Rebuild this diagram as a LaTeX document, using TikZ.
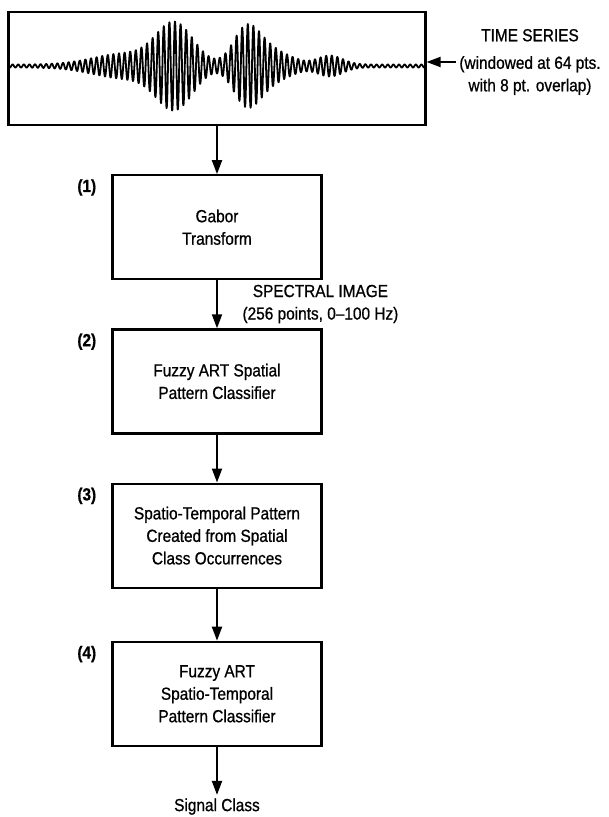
\documentclass[tikz,border=0pt]{standalone}
\usepackage{fontspec}
\setmainfont{Liberation Sans}[FakeStretch=0.88, FakeBold=0.8]
\usetikzlibrary{positioning, arrows.meta}

\begin{document}
\begin{tikzpicture}[
        x=1pt, y=-1pt,
        font=\fontsize{17.5}{22.5}\selectfont,
        stage/.style={draw, rectangle, minimum width=209pt, minimum height=104pt, align=center, line width=2.2pt},
        note/.style={align=center},
        tag/.style={font=\fontsize{17.5}{22.5}\selectfont\bfseries, inner sep=0pt},
        arr/.style={-{Triangle[length=14pt, width=10pt]}, line width=2pt},
        wave/.style={line width=1.8pt, line join=round},
        declare function={bump(\u)=exp(-(\u*\u));
            env(\x)=1.5+11*bump((\x-125)/45)+40*bump((\x-175)/26)+32*bump((\x-245)/18)
                +15*bump((\x-262)/20)+7*bump((\x-285)/20)+9*bump((\x-330)/18);}
    ]
    \useasboundingbox (0,0) rectangle (609,817);

    % Time series
    \node[draw, line width=2.2pt, minimum width=417pt, minimum height=113pt] (sig) at (217,68.5) {};
    \draw[wave] plot[domain=8:425, samples=1500] (\x, {66-env(\x)*sin(mod(\x,5.6)*64.2857)});
    \node[note] (ts) at (530,62) {TIME SERIES\\[5pt](windowed at 64 pts.\\with 8 pt. overlap)};
    \draw[arr] (ts.west) -- (ts.west -| sig.east);

    % Stage 1
    \node[stage] (gab) [below=48pt of sig] {Gabor\\Transform};
    \node[tag] [below left=5pt and 15pt of gab.north west] {(1)};
    \draw[arr] (sig) -- (gab);

    % Stage 2
    \node[stage] (sart) [below=48pt of gab] {Fuzzy ART Spatial\\Pattern Classifier};
    \node[tag] [below left=5pt and 15pt of sart.north west] {(2)};
    \node[note] (spec) [below right=1pt and 22pt of gab.south] {SPECTRAL IMAGE\\(256 points, 0–100 Hz)};
    \draw[arr] (gab) -- (sart);

    % Stage 3
    \node[stage] (stp) [below=48pt of sart] {Spatio-Temporal Pattern\\Created from Spatial\\Class Occurrences};
    \node[tag] [below left=5pt and 15pt of stp.north west] {(3)};
    \draw[arr] (sart) -- (stp);

    % Stage 4
    \node[stage] (tart) [below=52pt of stp] {Fuzzy ART\\Spatio-Temporal\\Pattern Classifier};
    \node[tag] [below left=5pt and 15pt of tart.north west] {(4)};
    \draw[arr] (stp) -- (tart);

    % Output
    \node (out) [below=48pt of tart] {Signal Class};
    \draw[arr] (tart) -- (out);

\end{tikzpicture}
\end{document}
